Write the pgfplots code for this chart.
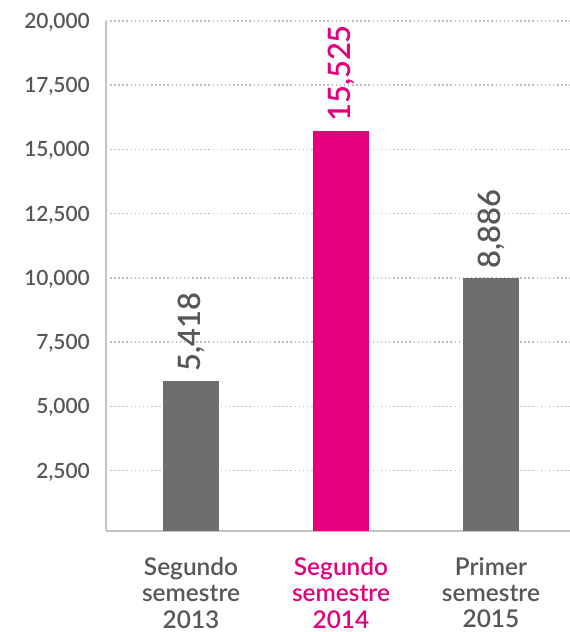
\documentclass[border=0pt]{standalone}
\usepackage{pgfplots}
\pgfplotsset{compat=1.18}
\usepackage{fontspec}
\setmainfont{Lato}[UprightFont={* Semibold}]
\definecolor{barg}{HTML}{6E6E6E}
\definecolor{mag}{HTML}{E5007D}
\definecolor{txt}{HTML}{575757}
\definecolor{axg}{HTML}{C4C4C4}
\definecolor{grd}{HTML}{BDBDBD}
\begin{document}
\begin{tikzpicture}
\begin{axis}[
  scale only axis, width=464bp, height=510bp,
  xmin=-0.567, xmax=2.527, ymin=155, ymax=20000,
  axis x line=bottom, axis y line=left,
  axis line style={axg, line width=2.5bp, -},
  ytick={2500,5000,7500,10000,12500,15000,17500,20000},
  scaled y ticks=false,
  yticklabel={\pgfmathprintnumber[fixed,precision=0,1000 sep={,},assume math mode=true]{\tick}},
  xtick={0,1,2},
  xticklabels={{Segundo\\semestre\\2013},{\textcolor{mag}{Segundo}\\\textcolor{mag}{semestre}\\\textcolor{mag}{2014}},{Primer\\semestre\\2015}},
  major tick length=0pt,
  ymajorgrids,
  major grid style={grd, line width=1.5bp, dash pattern=on 1.5bp off 2.6bp},
  yticklabel style={font=\fontsize{21}{24}\selectfont, text=txt, anchor=base east, inner sep=0pt, xshift=-16bp, yshift=-7.5bp},
  xticklabel style={font=\fontsize{24.5}{26.5}\selectfont, align=center, text=txt, anchor=north, inner sep=0pt, yshift=-26bp},
  every node near coord/.append style={rotate=90, anchor=west, inner xsep=9bp, inner ysep=0pt, font=\fontsize{31}{34}\selectfont},
]
\addplot[ybar, bar width=56bp, bar shift=0pt, fill=barg, draw=none,
  nodes near coords={5,418}, every node near coord/.append style={text=txt}] coordinates {(0,6000)};
\addplot[ybar, bar width=56bp, bar shift=0pt, fill=mag, draw=none,
  nodes near coords={15,525}, every node near coord/.append style={text=mag}] coordinates {(1,15720)};
\addplot[ybar, bar width=56bp, bar shift=0pt, fill=barg, draw=none,
  nodes near coords={8,886}, every node near coord/.append style={text=txt}] coordinates {(2,10000)};
\end{axis}
\pgfresetboundingbox
\path (-106bp,-101bp) rectangle (464bp,531bp);
\end{tikzpicture}
\end{document}
